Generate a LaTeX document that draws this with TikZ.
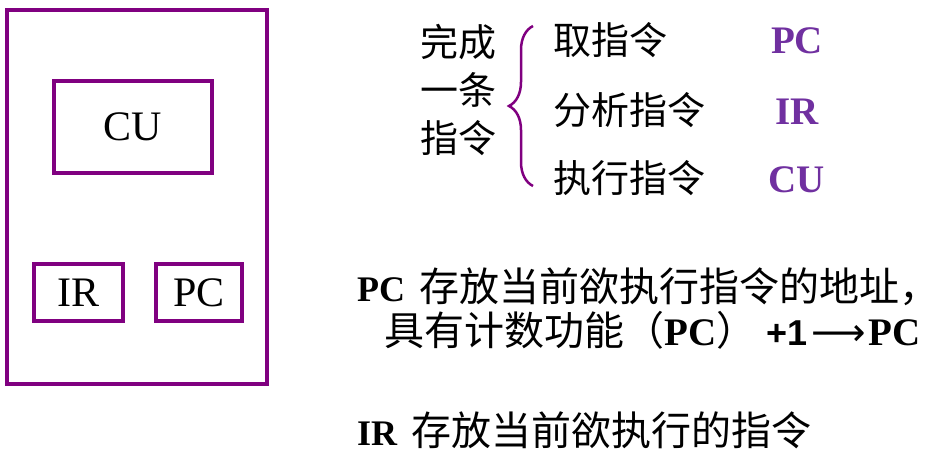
\documentclass[tikz,border=0pt]{standalone}
\usepackage{fontspec}
\setmainfont{Liberation Serif}
\newfontfamily\cjk{Noto Sans CJK SC}
\newfontfamily\arialfont{Liberation Sans}
\newfontfamily\symfont{DejaVu Sans}
\definecolor{regpurple}{RGB}{128,0,128}
\definecolor{lblpurple}{RGB}{112,48,160}
\usetikzlibrary{positioning,decorations.pathreplacing}

\begin{document}
\begin{tikzpicture}[x=1pt, y=-1pt,
    cpubox/.style={rectangle, draw=regpurple, line width=3.5pt, inner sep=0pt},
    regbox/.style={rectangle, draw=regpurple, line width=3.5pt, inner sep=0pt,
                   font=\fontsize{42}{48}\selectfont},
    stepitem/.style={anchor=west, inner sep=0pt, font=\cjk\fontsize{38}{46}\selectfont},
    reglbl/.style={inner sep=0pt, text=lblpurple, font=\fontsize{39}{46}\selectfont\bfseries},
    note/.style={anchor=west, inner sep=0pt, font=\fontsize{36}{44}\selectfont}
  ]
    \useasboundingbox (0,0) rectangle (938,455);

    % CPU with its registers
    \node[cpubox, minimum width=260pt, minimum height=374pt] (cpu) at (137,197) {};
    \node[regbox, minimum width=158pt, minimum height=92pt] (cu) at (133,127) {CU};
    \node[regbox, minimum width=89pt, minimum height=57pt]  (ir) at (78.5,292.5) {IR};
    \node[regbox, minimum width=86pt, minimum height=57pt]  (pc) at (199,292.5) {PC};

    % One instruction, three steps
    \node[inner sep=0pt, align=left, font=\cjk\fontsize{38}{48}\selectfont] (instr) at (458,90)
      {完成\\一条\\指令};
    \coordinate (braceTop) at (533,26);
    \coordinate (braceBot) at (533,186);
    \draw[regpurple, line width=2.5pt, decorate, decoration={brace, amplitude=24pt}]
      (braceBot) -- (braceTop);

    \node[stepitem] (fetch)   at (553,40)  {取指令};
    \node[stepitem] (decode)  at (553,110) {分析指令};
    \node[stepitem] (execute) at (553,178) {执行指令};

    \node[reglbl] (pclbl) at (797,41)  {PC};
    \node[reglbl] (irlbl) at (797,112) {IR};
    \node[reglbl] (culbl) at (797,180) {CU};

    % Notes
    \node[note] (pcnote) at (357,287)
      {\textbf{PC}\hspace{14pt}{\cjk\fontsize{40}{44}\selectfont 存放当前欲执行指令的地址，}};
    \node[note] (pcinc) at (384,330)
      {{\cjk\fontsize{40}{44}\selectfont 具有计数功能（}{\fontsize{39}{44}\selectfont\bfseries PC}{\cjk\fontsize{40}{44}\selectfont ）}\hspace{10pt}%
       {\arialfont\bfseries +1}\hspace{4pt}{\symfont\fontsize{38}{44}\selectfont ⟶}\hspace{3pt}%
       {\fontsize{39}{44}\selectfont\bfseries PC}};
    \node[note] (irnote) at (357,430)
      {\textbf{IR}\hspace{14pt}{\cjk\fontsize{40}{44}\selectfont 存放当前欲执行的指令}};
  \end{tikzpicture}
\end{document}
